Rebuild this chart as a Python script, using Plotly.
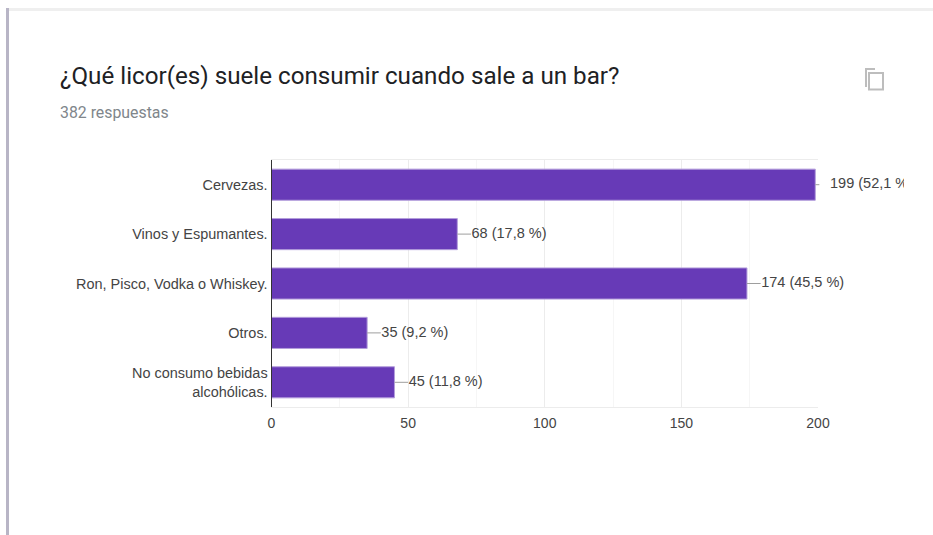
import plotly.graph_objects as go

W, H = 933, 535

# Survey answers
categories = ["Cervezas.", "Vinos y Espumantes.", "Ron, Pisco, Vodka o Whiskey.", "Otros.",
              "No consumo bebidas<br>alcohólicas."]
counts = [199, 68, 174, 35, 45]
value_labels = ["199 (52,1 %)", "68 (17,8 %)", "174 (45,5 %)", "35 (9,2 %)", "45 (11,8 %)"]
# Length of the thin connector from each bar to its label, in axis units
leader_units = [1.5, 5, 5, 5, 5]
label_gap_units = [5.4, 5.2, 5.2, 5.2, 5.2]

title_text = "¿Qué licor(es) suele consumir cuando sale a un bar?"
subtitle_text = "382 respuestas"
x_ticks = [0, 50, 100, 150, 200]

PLOT_L, PLOT_R, PLOT_T, PLOT_B = 271.5, 818.0, 160.0, 407.0
CLIP_R = 904.0
BAR_COLOR = "#673ab7"
BAR_EDGE = "#b39ddb"


def fx(px):
    return px / W


def fy(px):
    return 1 - px / H


scale_max = 200 * (CLIP_R - PLOT_L) / (PLOT_R - PLOT_L)

fig = go.Figure()

fig.add_trace(go.Bar(
    x=counts, y=categories, orientation="h",
    marker=dict(color=BAR_COLOR, line=dict(color=BAR_EDGE, width=1)),
    xaxis="x", yaxis="y", hoverinfo="skip",
))

# Connectors and value labels live on a wider axis with the same scale, so the
# first label is cut off at the right edge of the chart area
for cat, value, length in zip(categories, counts, leader_units):
    fig.add_trace(go.Scatter(
        x=[value, value + length], y=[cat, cat],
        mode="lines", line=dict(color="#9e9e9e", width=1),
        xaxis="x2", yaxis="y", hoverinfo="skip",
    ))

fig.add_trace(go.Scatter(
    x=[v + g for v, g in zip(counts, label_gap_units)], y=categories,
    mode="text", text=value_labels, textposition="middle right",
    textfont=dict(family="Liberation Sans", size=14.5, color="#444444"),
    cliponaxis=True, xaxis="x2", yaxis="y", hoverinfo="skip",
))

shapes = [
    # Card edges
    dict(type="rect", xref="paper", yref="paper", x0=fx(6), x1=fx(W), y0=fy(8), y1=fy(11),
         fillcolor="#efefef", line_width=0, layer="below"),
    dict(type="rect", xref="paper", yref="paper", x0=fx(6), x1=fx(9), y0=fy(8), y1=fy(H),
         fillcolor="#b8b5c6", line_width=0, layer="below"),
    # Copy icon
    dict(type="path", xref="paper", yref="paper",
         path=f"M {fx(875)} {fy(69)} L {fx(866)} {fy(69)} L {fx(866)} {fy(87)}",
         line=dict(color="#bdbdbd", width=2)),
    dict(type="rect", xref="paper", yref="paper", x0=fx(869), x1=fx(883), y0=fy(73), y1=fy(89.5),
         line=dict(color="#bdbdbd", width=2), fillcolor="rgba(0,0,0,0)"),
]

annotations = [
    dict(text=title_text, xref="paper", yref="paper", x=fx(58), y=fy(76), xanchor="left", yanchor="middle",
         showarrow=False, font=dict(family="Roboto", size=24.2, color="#202124")),
    dict(text=subtitle_text, xref="paper", yref="paper", x=fx(58), y=fy(112), xanchor="left", yanchor="middle",
         showarrow=False, font=dict(family="Roboto", size=15.85, color="#80868b")),
]

fig.update_layout(
    width=W, height=H, margin=dict(l=0, r=0, t=0, b=0, pad=0), autosize=False,
    paper_bgcolor="white", plot_bgcolor="rgba(0,0,0,0)", showlegend=False,
    bargap=0.37, shapes=shapes, annotations=annotations,
    xaxis=dict(
        domain=[fx(PLOT_L), fx(PLOT_R)], range=[0, 200], anchor="y", automargin=False,
        tickmode="array", tickvals=x_ticks, ticks="", ticklabelstandoff=3,
        tickfont=dict(family="Liberation Sans", size=14, color="#444444"),
        showgrid=True, gridcolor="#ececec", gridwidth=1, zeroline=False,
        showline=True, linecolor="#ececec", linewidth=1, mirror=True,
        minor=dict(tickmode="array", tickvals=[25, 75, 125, 175], showgrid=True, gridcolor="#f6f6f6", gridwidth=1, ticks=""),
    ),
    xaxis2=dict(
        domain=[fx(PLOT_L), fx(CLIP_R)], range=[0, scale_max], anchor="y", automargin=False,
        visible=False, showgrid=False, zeroline=False,
    ),
    yaxis=dict(
        domain=[fy(PLOT_B), fy(PLOT_T)], range=[4.5, -0.5], type="category", automargin=False,
        categoryorder="array", categoryarray=categories,
        ticks="", tickfont=dict(family="Liberation Sans", size=14.45, color="#444444"),
        showgrid=False, zeroline=False, showline=True, linecolor="#333333", linewidth=1,
    ),
)

fig.write_html("out.html", config=dict(displayModeBar=False))
